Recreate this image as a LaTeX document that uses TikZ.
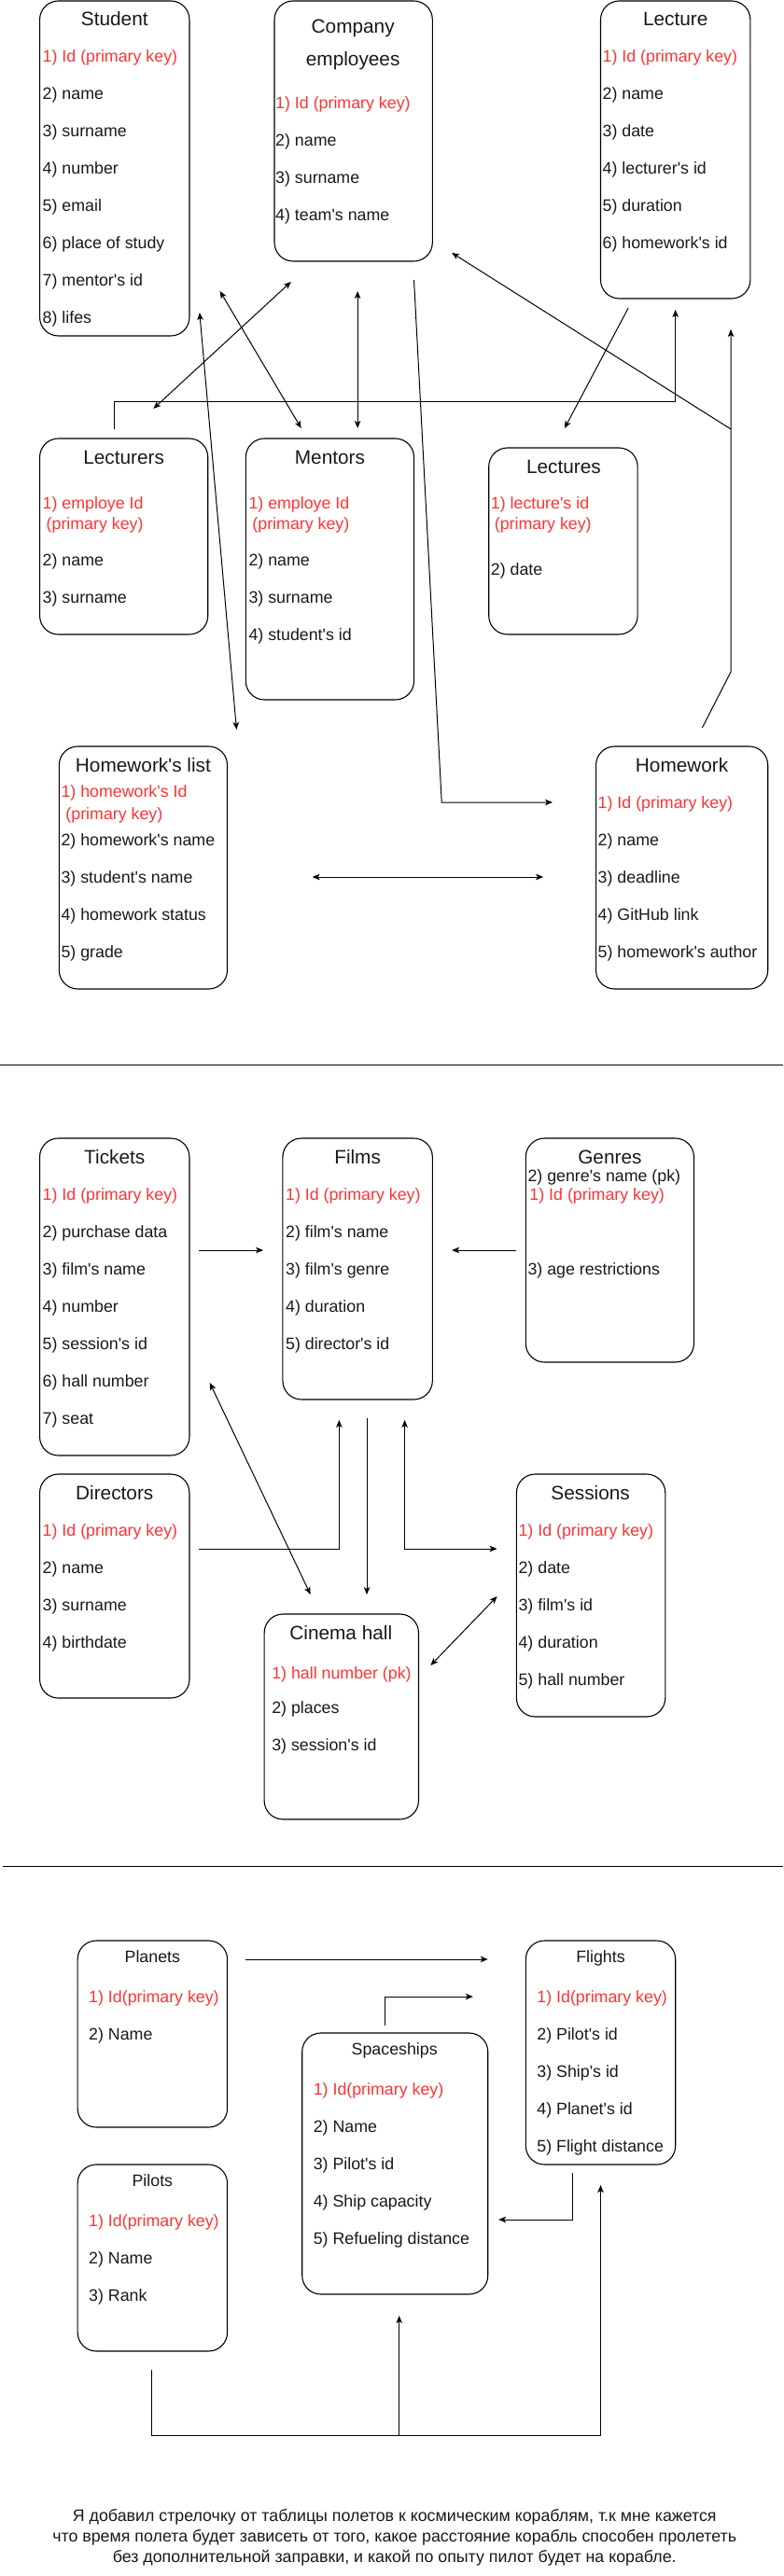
\documentclass[tikz,border=0pt]{standalone}
\usepackage{fontspec}
\setmainfont{Liberation Sans}[Ligatures=TeXOff]
\usetikzlibrary{arrows.meta}
\definecolor{pkred}{RGB}{255,51,51}
\tikzset{
  tbox/.style={draw=black, line width=1.1pt, rounded corners=20pt, inner sep=0pt},
  ttl/.style={anchor=center, inner sep=0pt, font=\fontsize{20.8}{25}\selectfont, text height=15pt, text depth=0pt, text=black!90},
  sttl/.style={anchor=center, inner sep=0pt, font=\fontsize{17.8}{22}\selectfont, text height=13pt, text depth=0pt, text=black!90},
  itm/.style={anchor=west, inner sep=0pt, font=\fontsize{17.8}{22}\selectfont, text height=13pt, text depth=0pt, text=black!90},
  pk/.style={itm, text=pkred},
  conn/.style={draw=black, line width=1pt},
  arr/.style={conn, -{Stealth[length=8pt,width=6.5pt,inset=2pt]}},
  darr/.style={conn, {Stealth[length=8pt,width=6.5pt,inset=2pt]}-{Stealth[length=8pt,width=6.5pt,inset=2pt]}},
}
\newcommand\dgBox[5]{\node[tbox, minimum width={(#4-#2)*0.99pt}, minimum height={(#5-#3)*1pt}] (#1) at ({(#2+#4)/2},{(#3+#5)/2}) {};}
\newcommand\dgItem[4]{\node[itm] (#1) at (#2,#3) {#4};}
\newcommand\dgRed[4]{\node[pk] (#1) at (#2,#3) {#4};}
\newcommand\dgTitle[4]{\node[ttl] (#1) at (#2,#3) {#4};}
\newcommand\dgSTitle[4]{\node[sttl] (#1) at (#2,#3) {#4};}
\begin{document}
\begin{tikzpicture}[x=0.99pt,y=-1pt]
\useasboundingbox (0,0) rectangle (847.5,2761);
\fill[white] (0,0) rectangle (847.5,2761);

% ---------------- Section 1 ----------------
\dgBox{student}{43}{1}{205}{360}
\dgTitle{studentT}{124}{20}{Student}
\dgRed{student1}{46}{60}{1) Id (primary key)}
\dgItem{student2}{46}{100}{2) name}
\dgItem{student3}{46}{140}{3) surname}
\dgItem{student4}{46}{180}{4) number}
\dgItem{student5}{46}{220}{5) email}
\dgItem{student6}{46}{260}{6) place of study}
\dgItem{student7}{46}{300}{7) mentor's id}
\dgItem{student8}{46}{340}{8) lifes}

\dgBox{company}{297}{1}{468}{280}
\dgTitle{companyT1}{382}{28}{Company}
\dgTitle{companyT2}{382}{63}{employees}
\dgRed{company1}{298}{110}{1) Id (primary key)}
\dgItem{company2}{298}{150}{2) name}
\dgItem{company3}{298}{190}{3) surname}
\dgItem{company4}{298}{230}{4) team's name}

\dgBox{lecture}{650}{1}{812}{320}
\dgTitle{lectureT}{731}{20}{Lecture}
\dgRed{lecture1}{652}{60}{1) Id (primary key)}
\dgItem{lecture2}{652}{100}{2) name}
\dgItem{lecture3}{652}{140}{3) date}
\dgItem{lecture4}{652}{180}{4) lecturer's id}
\dgItem{lecture5}{652}{220}{5) duration}
\dgItem{lecture6}{652}{260}{6) homework's id}

\dgBox{lecturers}{43}{470}{225}{680}
\dgTitle{lecturersT}{134}{490}{Lecturers}
\dgRed{lecturers1}{46}{539}{1) employe Id}
\dgRed{lecturers1b}{50}{561}{(primary key)}
\dgItem{lecturers2}{46}{600}{2) name}
\dgItem{lecturers3}{46}{640}{3) surname}

\dgBox{mentors}{266}{470}{448}{750}
\dgTitle{mentorsT}{357}{490}{Mentors}
\dgRed{mentors1}{269}{539}{1) employe Id}
\dgRed{mentors1b}{273}{561}{(primary key)}
\dgItem{mentors2}{269}{600}{2) name}
\dgItem{mentors3}{269}{640}{3) surname}
\dgItem{mentors4}{269}{680}{4) student's id}

\dgBox{lectures}{529}{480}{690}{680}
\dgTitle{lecturesT}{610}{500}{Lectures}
\dgRed{lectures1}{531}{539}{1) lecture's id}
\dgRed{lectures1b}{535}{561}{(primary key)}
\dgItem{lectures2}{531}{610}{2) date}

\dgBox{hwlist}{64}{800}{246}{1060}
\dgTitle{hwlistT}{155}{820}{Homework's list}
\dgRed{hwlist1}{66}{848}{1) homework's Id}
\dgRed{hwlist1b}{71}{872}{(primary key)}
\dgItem{hwlist2}{66}{900}{2) homework's name}
\dgItem{hwlist3}{66}{940}{3) student's name}
\dgItem{hwlist4}{66}{980}{4) homework status}
\dgItem{hwlist5}{66}{1020}{5) grade}

\dgBox{homework}{645}{800}{831}{1060}
\dgTitle{homeworkT}{738}{820}{Homework}
\dgRed{homework1}{647}{860}{1) Id (primary key)}
\dgItem{homework2}{647}{900}{2) name}
\dgItem{homework3}{647}{940}{3) deadline}
\dgItem{homework4}{647}{980}{4) GitHub link}
\dgItem{homework5}{647}{1020}{5) homework's author}

% connectors section 1
\coordinate (c1s) at (124,460);
\coordinate (c1e) at (731,332);
\draw[arr] (c1s) -- ++(0,-30) -| (c1e);
\coordinate (c2s) at (166,438);
\coordinate (c2e) at (315,302);
\draw[darr] (c2s) -- (c2e);
\coordinate (c3s) at (216,335);
\coordinate (c3e) at (256,782);
\draw[darr] (c3s) -- (c3e);
\coordinate (c4s) at (238,312);
\coordinate (c4e) at (326,459);
\draw[darr] (c4s) -- (c4e);
\coordinate (c5s) at (387,312);
\coordinate (c5e) at (387,459);
\draw[darr] (c5s) -- (c5e);
\coordinate (c6s) at (448,300);
\coordinate (c6m) at (478,860);
\coordinate (c6e) at (598,860);
\draw[arr] (c6s) -- (c6m) -- (c6e);
\coordinate (c7s) at (680,330);
\coordinate (c7e) at (611,459);
\draw[arr] (c7s) -- (c7e);
\coordinate (c8s) at (760,780);
\coordinate (c8m) at (791,720);
\coordinate (c8e) at (791,353);
\draw[arr] (c8s) -- (c8m) -- (c8e);
\coordinate (c9s) at (791,460);
\coordinate (c9e) at (489,271);
\draw[arr] (c9s) -- (c9e);
\coordinate (c10s) at (338,940);
\coordinate (c10e) at (588,940);
\draw[darr] (c10s) -- (c10e);

\draw[line width=1pt] (0,1141) -- (847.5,1141);

% ---------------- Section 2 ----------------
\dgBox{tickets}{43}{1220}{205}{1560}
\dgTitle{ticketsT}{124}{1240}{Tickets}
\dgRed{tickets1}{46}{1280}{1) Id (primary key)}
\dgItem{tickets2}{46}{1320}{2) purchase data}
\dgItem{tickets3}{46}{1360}{3) film's name}
\dgItem{tickets4}{46}{1400}{4) number}
\dgItem{tickets5}{46}{1440}{5) session's id}
\dgItem{tickets6}{46}{1480}{6) hall number}
\dgItem{tickets7}{46}{1520}{7) seat}

\dgBox{films}{306}{1220}{468}{1500}
\dgTitle{filmsT}{387}{1240}{Films}
\dgRed{films1}{309}{1280}{1) Id (primary key)}
\dgItem{films2}{309}{1320}{2) film's name}
\dgItem{films3}{309}{1360}{3) film's genre}
\dgItem{films4}{309}{1400}{4) duration}
\dgItem{films5}{309}{1440}{5) director's id}

\dgBox{genres}{569}{1220}{751}{1460}
\dgTitle{genresT}{660}{1240}{Genres}
\dgItem{genres2}{571}{1260}{2) genre's name (pk)}
\dgRed{genres1}{573}{1280}{1) Id (primary key)}
\dgItem{genres3}{571}{1360}{3) age restrictions}

\dgBox{directors}{43}{1580}{205}{1820}
\dgTitle{directorsT}{124}{1600}{Directors}
\dgRed{directors1}{46}{1640}{1) Id (primary key)}
\dgItem{directors2}{46}{1680}{2) name}
\dgItem{directors3}{46}{1720}{3) surname}
\dgItem{directors4}{46}{1760}{4) birthdate}

\dgBox{sessions}{559}{1580}{720}{1840}
\dgTitle{sessionsT}{639}{1600}{Sessions}
\dgRed{sessions1}{561}{1640}{1) Id (primary key)}
\dgItem{sessions2}{561}{1680}{2) date}
\dgItem{sessions3}{561}{1720}{3) film's id}
\dgItem{sessions4}{561}{1760}{4) duration}
\dgItem{sessions5}{561}{1800}{5) hall number}

\dgBox{cinema}{286}{1730}{453}{1950}
\dgTitle{cinemaT}{369}{1750}{Cinema hall}
\dgRed{cinema1}{294}{1793}{1) hall number (pk)}
\dgItem{cinema2}{294}{1830}{2) places}
\dgItem{cinema3}{294}{1870}{3) session's id}

% connectors section 2
\coordinate (c11s) at (215,1340);
\coordinate (c11e) at (285,1340);
\draw[arr] (c11s) -- (c11e);
\coordinate (c12s) at (559,1340);
\coordinate (c12e) at (489,1340);
\draw[arr] (c12s) -- (c12e);
\coordinate (c13s) at (215,1660);
\coordinate (c13e) at (367,1522);
\draw[arr] (c13s) -| (c13e);
\coordinate (c14s) at (397,1520);
\coordinate (c14e) at (397,1709);
\draw[arr] (c14s) -- (c14e);
\coordinate (c15s) at (438,1522);
\coordinate (c15e) at (538,1660);
\draw[darr] (c15s) |- (c15e);
\coordinate (c16s) at (227,1482);
\coordinate (c16e) at (336,1709);
\draw[darr] (c16s) -- (c16e);
\coordinate (c17s) at (538,1711);
\coordinate (c17e) at (466,1785);
\draw[darr] (c17s) -- (c17e);

\draw[line width=1pt] (3,2000) -- (847.5,2000);

% ---------------- Section 3 ----------------
\dgBox{planets}{84}{2080}{246}{2280}
\dgSTitle{planetsT}{165}{2097}{Planets}
\dgRed{planets1}{96}{2140}{1) Id(primary key)}
\dgItem{planets2}{96}{2180}{2) Name}

\dgBox{pilots}{84}{2320}{246}{2520}
\dgSTitle{pilotsT}{165}{2337}{Pilots}
\dgRed{pilots1}{96}{2380}{1) Id(primary key)}
\dgItem{pilots2}{96}{2420}{2) Name}
\dgItem{pilots3}{96}{2460}{3) Rank}

\dgBox{ships}{327}{2179}{528}{2459}
\dgSTitle{shipsT}{427}{2196}{Spaceships}
\dgRed{ships1}{339}{2239}{1) Id(primary key)}
\dgItem{ships2}{339}{2279}{2) Name}
\dgItem{ships3}{339}{2319}{3) Pilot's id}
\dgItem{ships4}{339}{2359}{4) Ship capacity}
\dgItem{ships5}{339}{2399}{5) Refueling distance}

\dgBox{flights}{569}{2080}{731}{2320}
\dgSTitle{flightsT}{650}{2097}{Flights}
\dgRed{flights1}{581}{2140}{1) Id(primary key)}
\dgItem{flights2}{581}{2180}{2) Pilot's id}
\dgItem{flights3}{581}{2220}{3) Ship's id}
\dgItem{flights4}{581}{2260}{4) Planet's id}
\dgItem{flights5}{581}{2300}{5) Flight distance}

% connectors section 3
\coordinate (c18s) at (266,2100);
\coordinate (c18e) at (528,2100);
\draw[arr] (c18s) -- (c18e);
\coordinate (c19s) at (417,2171);
\coordinate (c19e) at (512,2140);
\draw[arr] (c19s) |- (c19e);
\coordinate (c20s) at (619.5,2329);
\coordinate (c20e) at (539.5,2379);
\draw[arr] (c20s) |- (c20e);
\coordinate (c21s) at (164,2540);
\coordinate (c21e) at (650,2342);
\draw[arr] (c21s) -- (164,2610) -| (c21e);
\coordinate (c22s) at (432,2610);
\coordinate (c22e) at (432,2482);
\draw[arr] (c22s) -- (c22e);

\node[anchor=center, align=center, inner sep=0pt, font=\fontsize{17.8}{22}\selectfont, text=black!90] (note) at (427,2720)
  {Я добавил стрелочку от таблицы полетов к космическим кораблям, т.к мне кажется\\
   что время полета будет зависеть от того, какое расстояние корабль способен пролететь\\
   без дополнительной заправки, и какой по опыту пилот будет на корабле.};
\end{tikzpicture}
\end{document}
